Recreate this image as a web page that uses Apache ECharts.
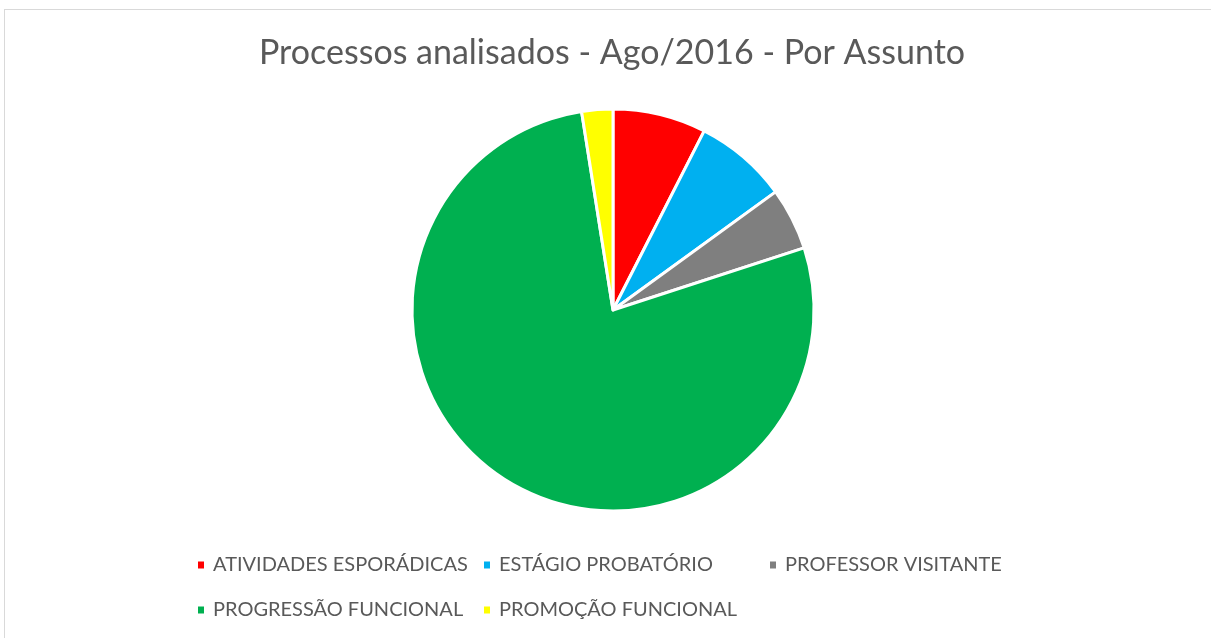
<!DOCTYPE html>
<html>
<head>
<meta charset="utf-8">
<script src="https://cdn.jsdelivr.net/npm/echarts@6/dist/echarts.min.js"></script>
<style>
  html, body { margin: 0; padding: 0; background: #fff; }
  #frame { position: absolute; left: 4px; top: 9px; width: 1207px; height: 629px;
           border-top: 1px solid #d9d9d9; border-left: 1px solid #d9d9d9; box-sizing: border-box; }
  #chart { position: absolute; left: 0; top: 0; width: 1211px; height: 638px; }
</style>
</head>
<body>
<div id="frame"></div>
<div id="chart"></div>
<script>
// dados do gráfico
const categorias = [
  "ATIVIDADES ESPORÁDICAS",
  "ESTÁGIO PROBATÓRIO",
  "PROFESSOR VISITANTE",
  "PROGRESSÃO FUNCIONAL",
  "PROMOÇÃO FUNCIONAL"
];
const valores = [3, 3, 2, 31, 1];
const cores = ["#ff0000", "#00b0f0", "#7f7f7f", "#00b050", "#ffff00"];

const myChart = echarts.init(document.getElementById("chart"));

// posição de cada item da legenda (duas linhas, estilo Excel)
const legendPos = [
  [196, 555], [482, 555], [768, 555],
  [196, 600], [482, 600]
];

const legends = categorias.map((nome, i) => ({
  data: [nome],
  left: legendPos[i][0],
  top: legendPos[i][1],
  padding: 0,
  icon: "rect",
  itemWidth: 8,
  itemHeight: 9,
  textStyle: {
    color: "#595959",
    fontSize: 20,
    fontFamily: "Lato",
    padding: [0, 0, 0, 3]
  },
  selectedMode: false
}));

const option = {
  animation: false,
  color: cores,
  title: {
    text: "Processos analisados - Ago/2016 - Por Assunto",
    left: 259,
    top: 36,
    padding: 0,
    textStyle: {
      color: "#595959",
      fontSize: 34,
      fontWeight: "normal",
      fontFamily: "Lato"
    }
  },
  legend: legends,
  series: [
    {
      type: "pie",
      center: [613, 310],
      radius: 201,
      startAngle: 90,
      clockwise: true,
      label: { show: false },
      labelLine: { show: false },
      itemStyle: {
        borderColor: "#ffffff",
        borderWidth: 3
      },
      emphasis: { disabled: true },
      data: categorias.map((nome, i) => ({ name: nome, value: valores[i] }))
    }
  ]
};

myChart.setOption(option);
</script>
</body>
</html>
